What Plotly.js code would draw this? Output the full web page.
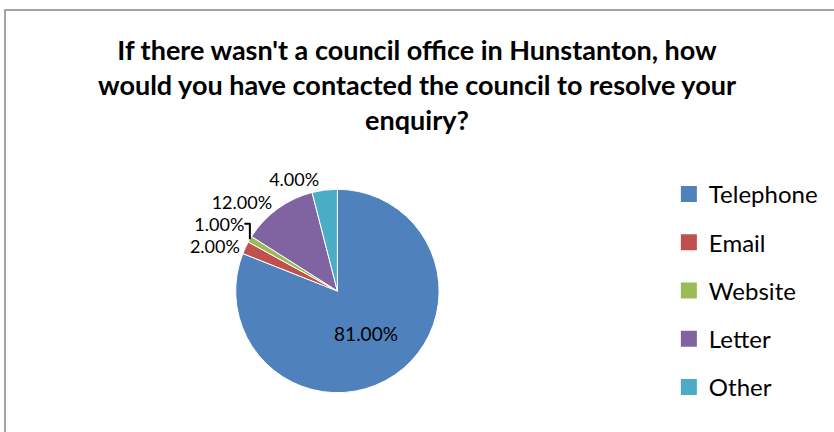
<!DOCTYPE html>
<html>
<head>
<meta charset="utf-8">
<script src="https://cdn.plot.ly/plotly-3.0.1.min.js"></script>
<style>html,body{margin:0;padding:0;background:#fff;}#chart{width:834px;height:432px;}</style>
</head>
<body>
<div id="chart"></div>
<script>
const categories = ["Telephone", "Email", "Website", "Letter", "Other"];
const shares = [81, 2, 1, 12, 4];
const colors = ["#4F81BD", "#C0504D", "#9BBB59", "#8064A2", "#4BACC6"];
const titleText = "If there wasn't a council office in Hunstanton, how<br>would you have contacted the council to resolve your<br>enquiry?";

const W = 834, H = 432;
const cx = 337.4, cy = 291, r = 101.7;
const FONT = "Lato, 'Open Sans', sans-serif";

const pieTrace = {
  type: "pie",
  labels: categories,
  values: shares,
  sort: false,
  direction: "clockwise",
  rotation: 0,
  marker: {colors: colors, line: {color: "#ffffff", width: 1}},
  texttemplate: "%{value:.2f}%",
  textposition: ["inside", "outside", "outside", "outside", "outside"],
  insidetextorientation: "horizontal",
  outsidetextfont: {family: FONT, size: 18, color: "#000000"},
  insidetextfont: {family: FONT, size: 19, color: "#000000"},
  hoverinfo: "none",
  showlegend: false,
  automargin: false,
  domain: {x: [(cx - r) / W, (cx + r) / W], y: [(H - cy - r) / H, (H - cy + r) / H]}
};

// legend entries (one per category), drawn by the legend only
const legendTraces = categories.map((name, i) => ({
  type: "scatter", mode: "markers",
  x: [null], y: [null],
  name: name,
  legendgroup: "g" + i,
  marker: {symbol: "square", size: 16, color: colors[i]},
  hoverinfo: "none",
  showlegend: true
}));

const layout = {
  width: W, height: H,
  margin: {l: 0, r: 0, t: 0, b: 0},
  paper_bgcolor: "#ffffff",
  plot_bgcolor: "rgba(0,0,0,0)",
  xaxis: {visible: false},
  yaxis: {visible: false},
  title: {
    text: "<b>" + titleText + "</b>",
    font: {family: FONT, size: 27, color: "#000000"},
    x: 0.5, xanchor: "center", y: 0.862, yanchor: "top"
  },
  legend: {
    x: 0.802, xanchor: "left", y: (H - 172) / H, yanchor: "top",
    font: {family: FONT, size: 24, color: "#000000"},
    itemwidth: 30, tracegroupgap: 14, traceorder: "grouped",
    bgcolor: "rgba(0,0,0,0)"
  },
  shapes: [{
    type: "rect", xref: "paper", yref: "paper",
    x0: 5 / W, x1: 1.05, y0: -0.05, y1: (H - 10) / H,
    line: {color: "#868686", width: 1.5}
  }]
};

Plotly.newPlot("chart", [pieTrace].concat(legendTraces), layout, {displayModeBar: false, staticPlot: true});
</script>
</body>
</html>
